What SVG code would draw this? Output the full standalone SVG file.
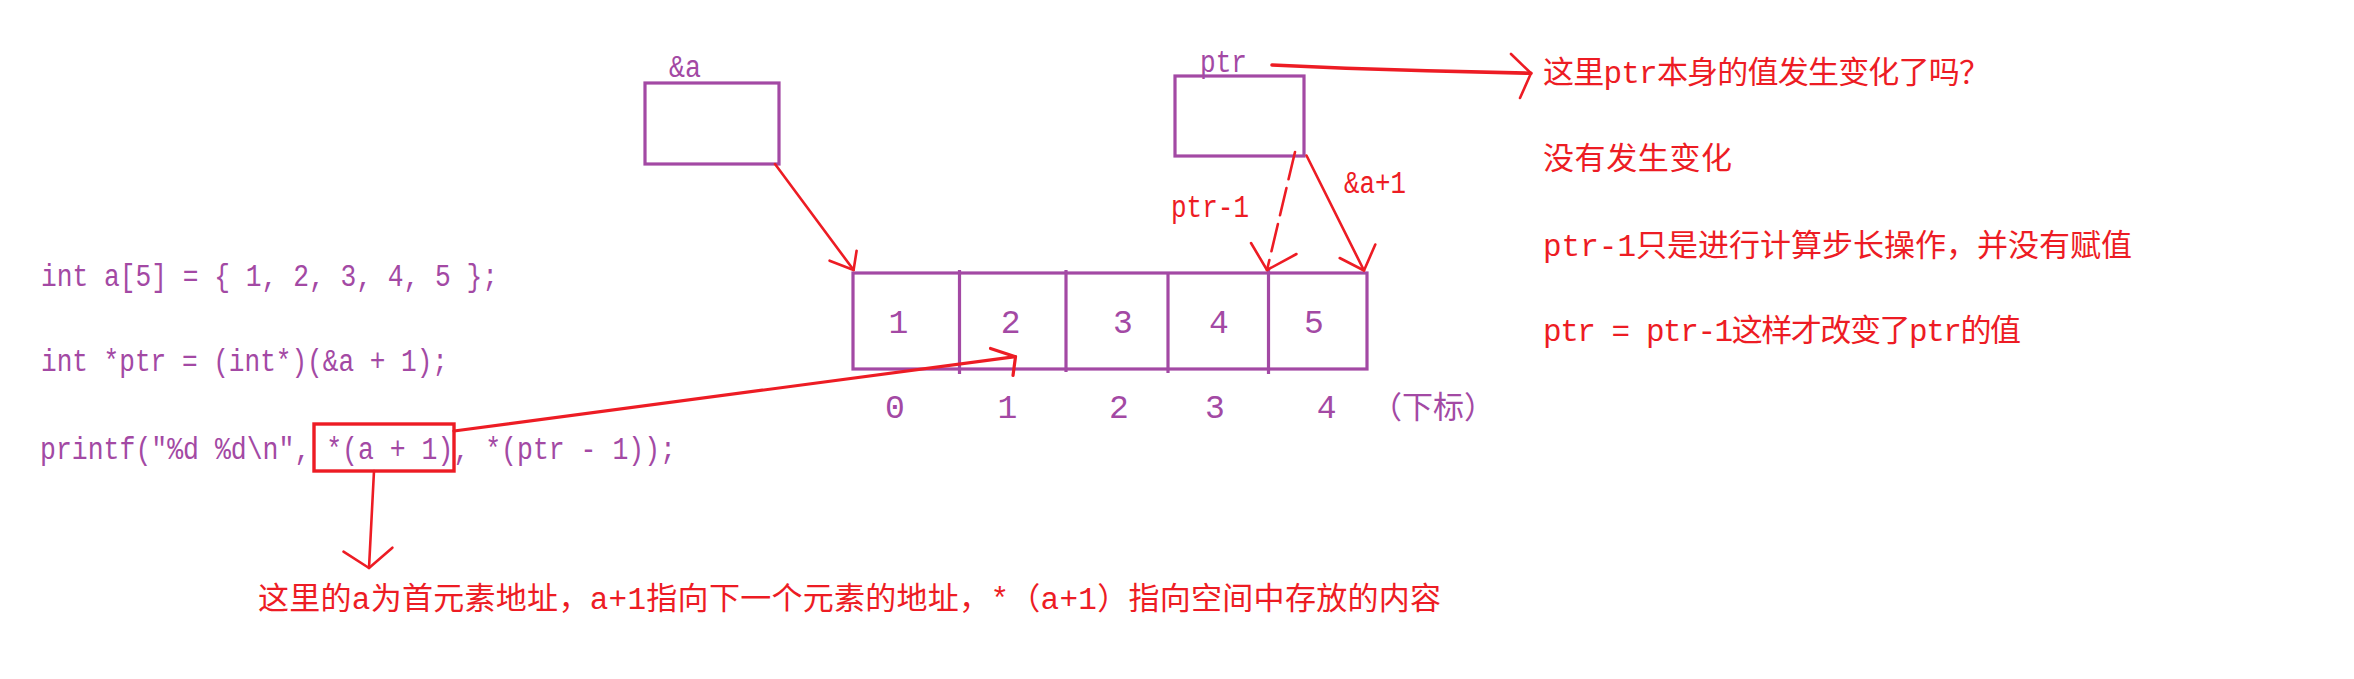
<svg xmlns="http://www.w3.org/2000/svg" width="2354" height="679" viewBox="0 0 2354 679">
<style>
.bg{fill:#fff}
.pbox{fill:none;stroke:#A349A4;stroke-width:3.2}
.pline{stroke:#A349A4;stroke-width:3.2;fill:none}
.code{font-family:"Liberation Mono","DejaVu Sans Mono",monospace;font-size:31px;fill:#A349A4}
.num{font-family:"Liberation Mono","DejaVu Sans Mono",monospace;font-size:33px;fill:#A349A4;text-anchor:middle}
.rl{font-family:"Liberation Mono","DejaVu Sans Mono",monospace;font-size:31px;fill:#ED1C24}
.note{font-family:"Liberation Mono","Noto Sans CJK SC",monospace;font-size:31px;fill:#ED1C24}
.pnote{font-family:"Liberation Mono","Noto Sans CJK SC",monospace;font-size:31px;fill:#A349A4}
.red{stroke:#ED1C24;stroke-width:2.6;fill:none;stroke-linecap:round;stroke-linejoin:round}
.redbox{fill:none;stroke:#ED1C24;stroke-width:3.4}
.dash{stroke-dasharray:28 9}
</style>
<rect class="bg" x="0" y="0" width="2354" height="679"/>

<g id="node-amp-a">
<rect class="pbox" x="645" y="83" width="134" height="81"/>
<text class="code" x="669" y="77" textLength="32" lengthAdjust="spacingAndGlyphs">&amp;a</text>
</g>

<g id="node-ptr">
<rect class="pbox" x="1175" y="76" width="129" height="80"/>
<text class="code" x="1200" y="72" textLength="47" lengthAdjust="spacingAndGlyphs">ptr</text>
</g>

<g id="node-array">
<rect class="pbox" x="853" y="273" width="514" height="96"/>
<line class="pline" x1="959.5" y1="270" x2="959.5" y2="374"/>
<line class="pline" x1="1066" y1="270" x2="1066" y2="372"/>
<line class="pline" x1="1168" y1="272" x2="1168" y2="373"/>
<line class="pline" x1="1268.5" y1="270" x2="1268.5" y2="374"/>
<text class="num" x="898.5" y="333">1</text>
<text class="num" x="1010.7" y="333">2</text>
<text class="num" x="1123" y="333">3</text>
<text class="num" x="1219" y="333">4</text>
<text class="num" x="1314" y="333">5</text>
</g>

<g id="node-indices">
<text class="num" x="895" y="418">0</text>
<text class="num" x="1007.5" y="418">1</text>
<text class="num" x="1119" y="418">2</text>
<text class="num" x="1215" y="418">3</text>
<text class="num" x="1326.7" y="418">4</text>
<text class="pnote" x="1371" y="418" textLength="124">（下标）</text>
</g>

<g id="node-code">
<text class="code" x="41" y="286" textLength="457" lengthAdjust="spacingAndGlyphs">int a[5] = { 1, 2, 3, 4, 5 };</text>
<text class="code" x="41" y="371" textLength="407" lengthAdjust="spacingAndGlyphs">int *ptr = (int*)(&amp;a + 1);</text>
<text class="code" x="40" y="459" textLength="636" lengthAdjust="spacingAndGlyphs">printf("%d %d\n", *(a + 1), *(ptr - 1));</text>
</g>

<g id="node-highlight">
<rect class="redbox" x="314" y="424" width="140" height="47"/>
</g>

<g id="node-labels">
<text class="rl" x="1171" y="217" textLength="78" lengthAdjust="spacingAndGlyphs">ptr-1</text>
<text class="rl" x="1344" y="193" textLength="62" lengthAdjust="spacingAndGlyphs">&amp;a+1</text>
</g>

<g id="node-notes">
<text class="note" x="1543" y="83" textLength="447">这里ptr本身的值发生变化了吗？</text>
<text class="note" x="1543" y="169" textLength="189">没有发生变化</text>
<text class="note" x="1543" y="256" textLength="589">ptr-1只是进行计算步长操作，并没有赋值</text>
<text class="note" x="1543" y="341" textLength="478">ptr = ptr-1这样才改变了ptr的值</text>
<text class="note" x="258" y="609" textLength="1183">这里的a为首元素地址，a+1指向下一个元素的地址，*（a+1）指向空间中存放的内容</text>
</g>

<g id="connectors">
<line class="red" x1="775" y1="164" x2="853.6" y2="270"/>
<polyline class="red" points="829.6,260.7 853.6,270 856.6,250.7"/>
<line class="red dash" x1="1295" y1="152" x2="1267" y2="270"/>
<polyline class="red" points="1251,243 1267,270 1296.5,254"/>
<line class="red" x1="1306.5" y1="155.5" x2="1364" y2="270.5"/>
<polyline class="red" points="1339.7,258 1364,270.5 1375.3,244.5"/>
<polyline class="red" style="stroke-width:3.6" points="1272,65 1346,68.3 1427,70.7 1531,73.3"/>
<polyline class="red" points="1511,54 1531,73.3 1520,98"/>
<line class="red" style="stroke-width:3.2" x1="454" y1="431" x2="1015.5" y2="356.7"/>
<polyline class="red" style="stroke-width:3.2" points="990.5,348.5 1015.5,356.7 1013,375.5"/>
<line class="red" x1="374" y1="471" x2="369" y2="568"/>
<polyline class="red" points="343.5,551.7 369,568 392.4,547.7"/>
</g>
</svg>
